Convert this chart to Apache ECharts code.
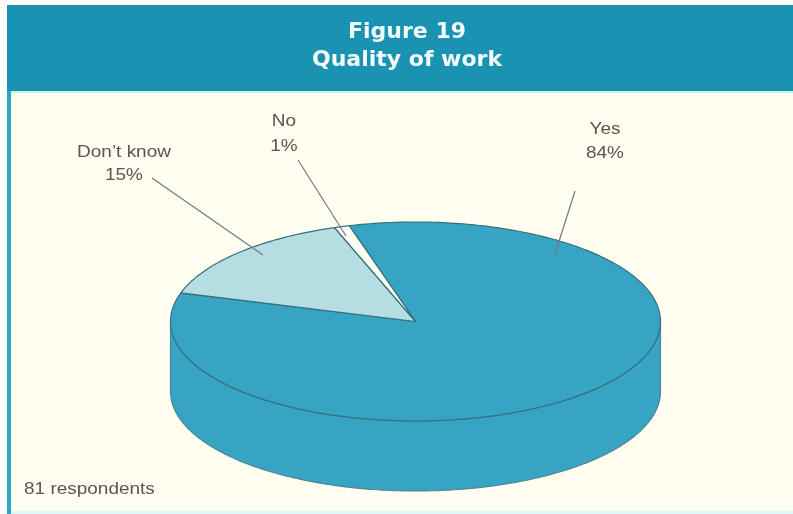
<!DOCTYPE html>
<html>
<head>
<meta charset="utf-8">
<style>html,body{margin:0;padding:0;background:#fff}#c{width:793px;height:514px}</style>
<script src="https://cdn.jsdelivr.net/npm/echarts@6/dist/echarts.min.js"></script>
</head>
<body>
<div id="c"></div>
<script>
const categories = ['Yes', "Don’t know", 'No'];
const shares = [84, 15, 1];
const sliceColors = ['#38a4c4', '#b6dde2', '#fffff4'];
const titleLines = ['Figure 19', 'Quality of work'];
const footnote = '81 respondents';

const CX = 415.5, CY = 321.5, RX = 245, RY = 99.5, DEPTH = 70;
const START_DEG = -15.7;   // clockwise from straight up, on the ellipse parameter
const EDGE = '#33707f', INK = '#5b5552', LEADER = '#6f7b78';
const TEXT_FONT = '16.5px "Liberation Sans"', TEXT_STRETCH = 1.15;

const labelPlaces = [
  {x: 605, y1: 129, y2: 153, from: [575, 191], to: [555, 254]},
  {x: 124, y1: 152, y2: 175, from: [152, 178], to: [263, 255]},
  {x: 284, y1: 121, y2: 146, from: [298, 160], to: [346, 236]}
];

const pt = (deg, dy) => {
  const a = deg * Math.PI / 180;
  return [CX + RX * Math.sin(a), CY - RY * Math.cos(a) + (dy || 0)];
};
const arc = (a, b, dy) => {
  const out = [], n = Math.max(2, Math.ceil(Math.abs(b - a)));
  for (let i = 0; i <= n; i++) out.push(pt(a + (b - a) * i / n, dy));
  return out;
};
const total = shares.reduce((s, v) => s + v, 0);

function renderSlice(params, api) {
  const i = params.dataIndex;
  let before = 0;
  for (let k = 0; k < i; k++) before += shares[k];
  const a0 = START_DEG + before / total * 360;
  const a1 = a0 + api.value(1) / total * 360;
  const fill = sliceColors[i];
  const children = [];
  if (i === 0) {
    const side = arc(90, 270, 0).concat(arc(270, 90, DEPTH));
    children.push({type: 'polygon', shape: {points: side},
      style: {fill: fill, stroke: '#4f8797', lineWidth: 1.2}});
  }
  children.push({type: 'polygon', shape: {points: [[CX, CY]].concat(arc(a0, a1))},
    style: {fill: fill, stroke: EDGE, lineWidth: 1.2}});
  return {type: 'group', children: children};
}

function stretchedText(t, x, y, align) {
  return {type: 'text', x: x, y: y, scaleX: TEXT_STRETCH,
    style: {x: 0, y: 0, text: t, fill: INK, font: TEXT_FONT, align: align, verticalAlign: 'middle'}};
}

function renderLabels(params, api) {
  const i = params.dataIndex, p = labelPlaces[i];
  return {type: 'group', children: [
    {type: 'line', shape: {x1: p.from[0], y1: p.from[1], x2: p.to[0], y2: p.to[1]},
      style: {stroke: LEADER, lineWidth: 1.2}},
    stretchedText(categories[i], p.x, p.y1, 'center'),
    stretchedText(shares[i] + '%', p.x, p.y2, 'center')
  ]};
}

const seriesData = categories.map((c, i) => ({name: c, value: [i, shares[i]]}));

const chart = echarts.init(document.getElementById('c'), null, {renderer: 'canvas'});
chart.setOption({
  animation: false,
  backgroundColor: '#ffffff',
  title: {
    text: titleLines.join('\n'),
    left: 402, top: 13, textAlign: 'center',
    textStyle: {color: '#f4fbfa', fontFamily: '"DejaVu Sans"', fontWeight: 'bold', fontSize: 22, lineHeight: 28}
  },
  graphic: [
    {type: 'rect', z: -10, shape: {x: 7, y: 5, width: 786, height: 509}, style: {fill: '#fffef1'}},
    {type: 'rect', z: -9, shape: {x: 7, y: 5, width: 786, height: 86}, style: {fill: '#1a93b3'}},
    {type: 'rect', z: -9, shape: {x: 7, y: 91, width: 4, height: 423}, style: {fill: '#2aa9c9'}},
    {type: 'rect', z: -9, shape: {x: 11, y: 91, width: 782, height: 2}, style: {fill: '#c8f0f2'}},
    {type: 'rect', z: -9, shape: {x: 11, y: 511, width: 782, height: 3}, style: {fill: '#dff7f6'}},
    {type: 'text', z: 5, x: 24, y: 489, scaleX: TEXT_STRETCH, style: {x: 0, y: 0, text: footnote, fill: INK, font: TEXT_FONT, align: 'left', verticalAlign: 'middle'}}
  ],
  series: [
    {type: 'custom', coordinateSystem: 'none', z: 2, silent: true, renderItem: renderSlice, data: seriesData},
    {type: 'custom', coordinateSystem: 'none', z: 3, silent: true, renderItem: renderLabels, data: seriesData}
  ]
});
</script>
</body>
</html>
